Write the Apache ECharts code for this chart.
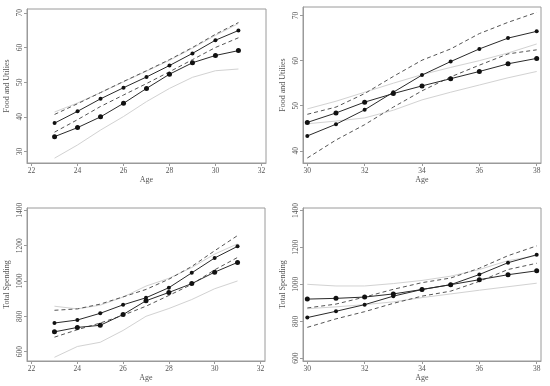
<!DOCTYPE html>
<html>
<head>
<meta charset="utf-8">
<script src="https://cdn.jsdelivr.net/npm/echarts@6/dist/echarts.min.js"></script>
<style>html,body{margin:0;padding:0;background:#fff;}#c{width:550px;height:386px;}</style>
</head>
<body>
<div id="c"></div>
<script>
// ---- data ----
var agesYoung = [23, 24, 25, 26, 27, 28, 29, 30, 31];
var agesOld = [30, 31, 32, 33, 34, 35, 36, 37, 38];

// Panel 1: Food and Utilies, ages 23-31
var food1A = [38.2, 41.6, 45.2, 48.4, 51.5, 54.8, 58.3, 62.1, 64.9];
var food1B = [34.3, 36.9, 40.0, 43.9, 48.2, 52.3, 55.6, 57.7, 59.1];
var food1DashUp = [40.7, 43.8, 47.0, 50.2, 53.3, 56.5, 60.0, 63.8, 67.2];
var food1DashLo = [35.6, 39.2, 43.0, 46.3, 49.6, 53.0, 56.5, 60.0, 62.8];
var food1GrayUp = [41.4, 44.0, 47.0, 50.1, 53.2, 56.3, 59.8, 63.5, 66.9];
var food1GrayLo = [28.1, 31.9, 36.2, 40.1, 44.4, 48.2, 51.4, 53.3, 53.8];

// Panel 2: Food and Utilies, ages 30-38
var food2A = [43.3, 45.9, 49.1, 53.0, 56.8, 59.8, 62.6, 65.0, 66.5];
var food2B = [46.3, 48.4, 50.8, 52.7, 54.4, 56.0, 57.6, 59.3, 60.5];
var food2DashUp = [48.1, 49.7, 52.7, 56.5, 60.1, 62.6, 66.0, 68.5, 70.7];
var food2DashLo = [38.4, 42.4, 45.8, 49.7, 53.3, 56.4, 59.0, 61.5, 62.4];
var food2GrayUp = [49.3, 51.0, 53.0, 55.0, 56.9, 58.5, 60.0, 61.7, 63.7];
var food2GrayLo = [46.0, 46.6, 47.3, 49.0, 51.3, 53.0, 54.6, 56.2, 57.6];

// Panel 3: Total Spending, ages 23-31
var tot1A = [762, 779, 817, 865, 905, 962, 1046, 1130, 1196];
var tot1B = [712, 737, 749, 810, 888, 935, 985, 1050, 1105];
var tot1DashUp = [834, 842, 869, 910, 952, 1010, 1082, 1171, 1257];
var tot1DashLo = [682, 724, 762, 806, 857, 918, 981, 1063, 1133];
var tot1GrayUp = [857, 842, 863, 909, 971, 1015, 1076, 1152, 1210];
var tot1GrayLo = [568, 629, 653, 720, 800, 844, 895, 956, 1000];

// Panel 4: Total Spending, ages 30-38
var tot2A = [820, 854, 890, 936, 972, 998, 1053, 1117, 1160];
var tot2B = [920, 924, 931, 948, 972, 998, 1025, 1052, 1073];
var tot2DashUp = [872, 893, 931, 973, 1009, 1034, 1087, 1155, 1208];
var tot2DashLo = [767, 813, 852, 897, 936, 963, 1016, 1080, 1114];
var tot2GrayUp = [1000, 991, 991, 1004, 1021, 1044, 1080, 1128, 1155];
var tot2GrayLo = [868, 878, 890, 905, 928, 948, 968, 987, 1006];

// tick labels
var xTicksYoung = [22, 24, 26, 28, 30, 32];
var xTicksOld = [30, 32, 34, 36, 38];
var yTicksFood1 = [30, 40, 50, 60, 70];
var yTicksFood2 = [40, 50, 60, 70];
var yTicksTot = [600, 800, 1000, 1200, 1400];

var yNameFood = 'Food and Utilies';
var yNameTot = 'Total Spending';
var xName = 'Age';

// ---- chart ----
function pairs(xs, ys) { return xs.map(function (x, i) { return [x, ys[i]]; }); }

var FONT = 'Liberation Serif';
var AX = '#9a9a9a';
var TXT = '#555';

var grids = [
  {left: 27, top: 9, width: 239, height: 154},
  {left: 303, top: 7, width: 238, height: 156},
  {left: 27, top: 208, width: 238, height: 153},
  {left: 303, top: 208, width: 238, height: 153}
];
grids.forEach(function (g) { g.show = true; g.borderColor = AX; g.borderWidth = 1; g.backgroundColor = 'transparent'; });

function plain(v) { return String(v); }

function xAxis(idx, min, max, ticks) {
  return {
    type: 'value', gridIndex: idx, min: min, max: max,
    name: xName, nameLocation: 'middle', nameGap: 12,
    nameTextStyle: {fontFamily: FONT, fontSize: 8, color: TXT},
    splitLine: {show: false},
    axisLine: {show: true, lineStyle: {color: AX}},
    axisTick: {show: true, inside: false, length: 3, lineStyle: {color: AX}, customValues: ticks},
    axisLabel: {fontFamily: FONT, fontSize: 7.5, color: TXT, margin: 4, customValues: ticks, formatter: plain}
  };
}
function yAxis(idx, min, max, ticks, name) {
  return {
    type: 'value', gridIndex: idx, min: min, max: max,
    name: name, nameLocation: 'middle', nameGap: 16,
    nameTextStyle: {fontFamily: FONT, fontSize: 8, color: TXT},
    splitLine: {show: false},
    axisLine: {show: true, lineStyle: {color: AX}},
    axisTick: {show: true, inside: false, length: 3, lineStyle: {color: AX}, customValues: ticks},
    axisLabel: {fontFamily: FONT, fontSize: 7.5, color: TXT, margin: 3, rotate: 90, customValues: ticks, formatter: plain}
  };
}

function mk(idx, xs, ys, kind) {
  var s = {type: 'line', xAxisIndex: idx, yAxisIndex: idx, data: pairs(xs, ys), animation: false, silent: true};
  if (kind === 'A') {
    s.lineStyle = {color: '#2a2a2a', width: 1};
    s.symbol = 'circle'; s.symbolSize = 4; s.showSymbol = true;
    s.itemStyle = {color: '#111'};
    s.z = 5;
  } else if (kind === 'B') {
    s.lineStyle = {color: '#2a2a2a', width: 1};
    s.symbol = 'circle'; s.symbolSize = 5; s.showSymbol = true;
    s.itemStyle = {color: '#111'};
    s.z = 5;
  } else if (kind === 'D') {
    s.lineStyle = {color: '#555', width: 1, type: [4, 3]};
    s.symbol = 'none';
    s.z = 3;
  } else {
    s.lineStyle = {color: '#d2d2d2', width: 1};
    s.symbol = 'none';
    s.z = 2;
  }
  return s;
}

var series = [];
function panel(idx, xs, A, B, DU, DL, GU, GL) {
  series.push(mk(idx, xs, GU, 'G'), mk(idx, xs, GL, 'G'), mk(idx, xs, DU, 'D'), mk(idx, xs, DL, 'D'), mk(idx, xs, A, 'A'), mk(idx, xs, B, 'B'));
}
panel(0, agesYoung, food1A, food1B, food1DashUp, food1DashLo, food1GrayUp, food1GrayLo);
panel(1, agesOld, food2A, food2B, food2DashUp, food2DashLo, food2GrayUp, food2GrayLo);
panel(2, agesYoung, tot1A, tot1B, tot1DashUp, tot1DashLo, tot1GrayUp, tot1GrayLo);
panel(3, agesOld, tot2A, tot2B, tot2DashUp, tot2DashLo, tot2GrayUp, tot2GrayLo);

var chart = echarts.init(document.getElementById('c'), null, {renderer: 'canvas'});
chart.setOption({
  animation: false,
  backgroundColor: '#fff',
  grid: grids,
  xAxis: [
    xAxis(0, 21.8, 32.2, xTicksYoung),
    xAxis(1, 29.85, 38.15, xTicksOld),
    xAxis(2, 21.8, 32.2, xTicksYoung),
    xAxis(3, 29.85, 38.15, xTicksOld)
  ],
  yAxis: [
    yAxis(0, 26.7, 71.1, yTicksFood1, yNameFood),
    yAxis(1, 37.3, 71.9, yTicksFood2, yNameFood),
    yAxis(2, 547, 1413, yTicksTot, yNameTot),
    yAxis(3, 585, 1413, yTicksTot, yNameTot)
  ],
  series: series
});
</script>
</body>
</html>
